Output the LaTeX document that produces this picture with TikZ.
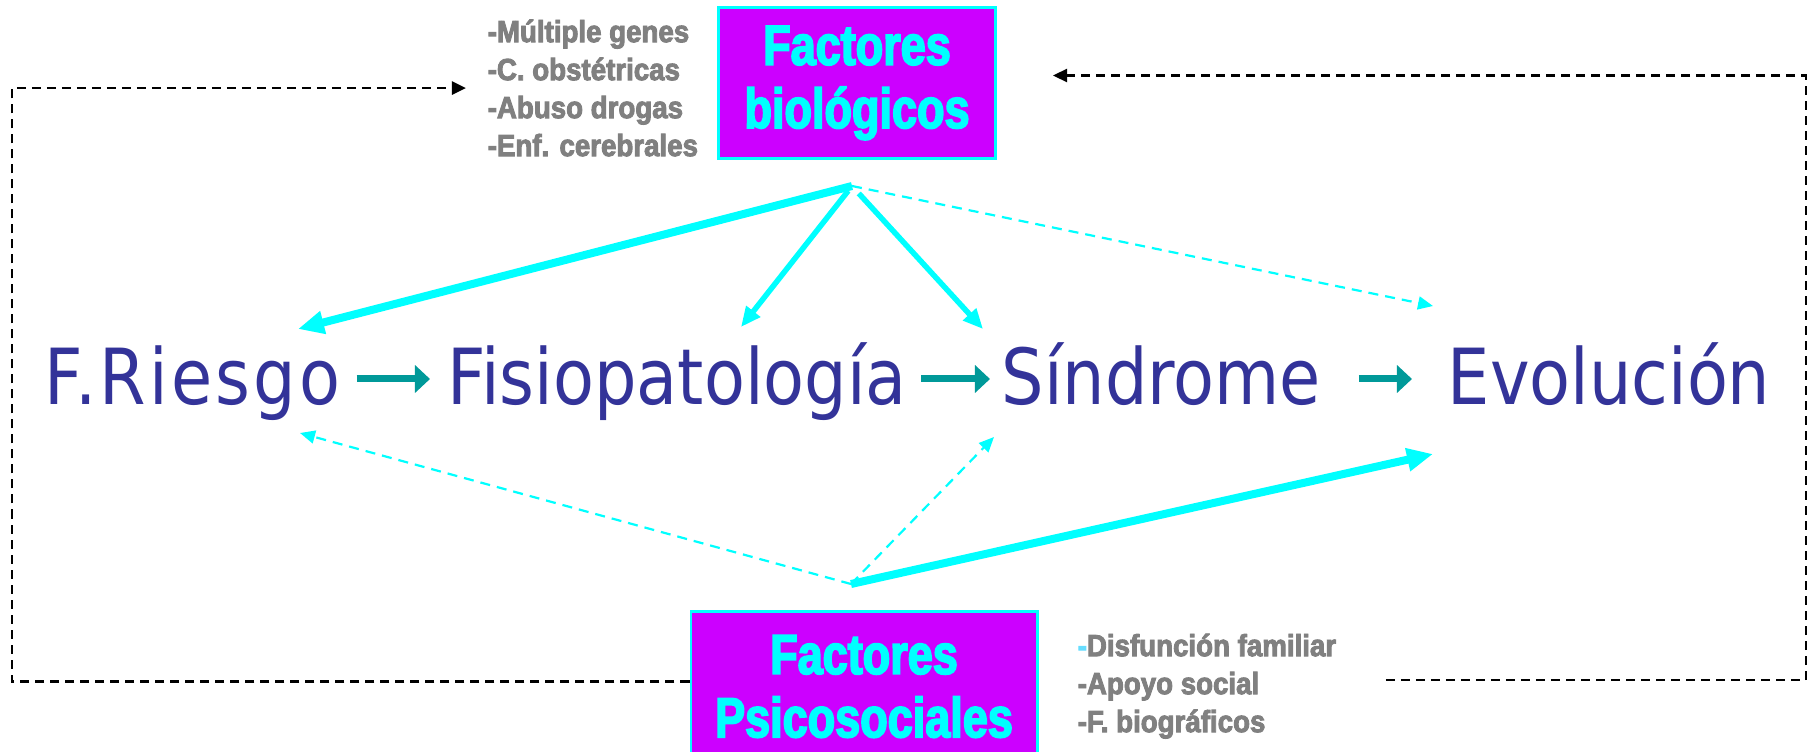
\documentclass[tikz,border=0pt]{standalone}
\usepackage{fontspec}
\usepackage{tikz}
\usetikzlibrary{arrows.meta,calc,positioning}

\newfontfamily\stagefont[FakeStretch=0.865]{DejaVu Sans}
\newfontfamily\boxfont[FakeStretch=0.8,FakeBold=3]{Liberation Sans}
\newfontfamily\itemfont[FakeStretch=0.905,FakeBold=3]{Liberation Sans}

\definecolor{stageblue}{RGB}{51,51,153}
\definecolor{stageteal}{RGB}{0,153,153}
\definecolor{boxmagenta}{RGB}{204,0,255}
\definecolor{boxcyan}{RGB}{0,255,255}
\definecolor{itemgrey}{RGB}{128,128,128}
\definecolor{dashcyan}{RGB}{102,221,255}

\begin{document}
\begin{tikzpicture}[x=0.01cm, y=-0.01cm,
    stage/.style={inner sep=0pt, anchor=base west, text=stageblue,
        text height=0.6cm, text depth=0.1cm,
        font=\stagefont\fontsize{22}{26}\selectfont},
    factbox/.style={fill=boxmagenta, draw=boxcyan, line width=0.8pt,
        align=center, text=boxcyan, inner sep=0pt,
        font=\boxfont\bfseries\fontsize{16}{18}\selectfont},
    itemlist/.style={inner sep=0pt, align=left, text=itemgrey,
        font=\itemfont\bfseries\fontsize{8.7}{10.8}\selectfont},
    flow/.style={stageteal, line width=0.07cm,
        -{Triangle[length=0.15cm, width=0.27cm]}},
    biglink/.style={boxcyan, line width=0.08cm,
        -{Triangle[length=0.26cm, width=0.22cm]}},
    midlink/.style={boxcyan, line width=0.055cm,
        -{Triangle[length=0.2cm, width=0.17cm]}},
    weaklink/.style={boxcyan, line width=0.022cm, dash pattern=on 0.1cm off 0.07cm,
        -{Triangle[length=0.15cm, width=0.13cm]}},
    feedback/.style={black, line width=0.025cm, dash pattern=on 0.09cm off 0.06cm,
        -{Triangle[length=0.14cm, width=0.13cm]}}]
    \useasboundingbox (0,0) rectangle (1812,751);

    % stages
    \node[stage] (riesgo) at (44,404) {\addfontfeature{LetterSpace=4}F.Riesgo};
    \node[stage] (fisio) at (447,404) {Fisiopatología};
    \node[stage] (sindrome) at (1001,404) {Síndrome};
    \node[stage] (evolucion) at (1447,404) {Evolución};

    \draw[flow, shorten <=0.16cm, shorten >=0.17cm] (riesgo.east) -- (fisio.west);
    \draw[flow, shorten <=0.14cm, shorten >=0.11cm] (fisio.east) -- (sindrome.west);
    \draw[flow, shorten <=0.37cm, shorten >=0.35cm] (sindrome.east) -- (evolucion.west);

    % factor boxes and their lists
    \node[factbox, minimum width=2.77cm, minimum height=1.51cm] (bio) at (857,83) {Factores\\biológicos};
    \node[factbox, minimum width=3.46cm, minimum height=1.5cm, anchor=north] (psico) at (864,610) {Factores\\Psicosociales};

    \node[itemlist, anchor=north west] (biolist) at (487,19)
        {-Múltiple genes\\-C. obstétricas\\-Abuso drogas\\-Enf. cerebrales};
    \node[itemlist, anchor=north west] (psicolist) at (1077,633)
        {{\color{dashcyan}-}Disfunción familiar\\-Apoyo social\\-F. biográficos};

    % biological influences
    \coordinate (biohub) at (852,186);
    \coordinate (riesgotop) at (298,329);
    \coordinate (fisiotop) at (741,327);
    \coordinate (sindrometop) at (983,329);
    \coordinate (evoltop) at (1433,306);
    \draw[biglink] (biohub) -- (riesgotop);
    \draw[midlink, shorten <=0.06cm] (biohub) -- (fisiotop);
    \draw[midlink, shorten <=0.1cm] (biohub) -- (sindrometop);
    \draw[weaklink] (biohub) -- (evoltop);

    % psychosocial influences
    \coordinate (psihub) at (851,584);
    \coordinate (riesgobot) at (300,433);
    \coordinate (sindromebot) at (994,437);
    \coordinate (evolbot) at (1433,454);
    \draw[biglink] (psihub) -- (evolbot);
    \draw[weaklink] (psihub) -- (sindromebot);
    \draw[weaklink] (psihub) -- (riesgobot);

    % feedback from the outcome
    \coordinate (leftrail) at (12,0);
    \coordinate (rightrail) at (1806,0);
    \draw[feedback, shorten >=0.21cm] ([yshift=0.05cm]psico.west) -- ([yshift=0.05cm]psico.west -| leftrail) |- (biolist.west);
    \draw[feedback, shorten <=0.49cm, shorten >=0.56cm] ([yshift=0.06cm]psicolist.east) -- ([yshift=0.06cm]psicolist.east -| rightrail) |- ([yshift=0.075cm]bio.east);
\end{tikzpicture}
\end{document}
